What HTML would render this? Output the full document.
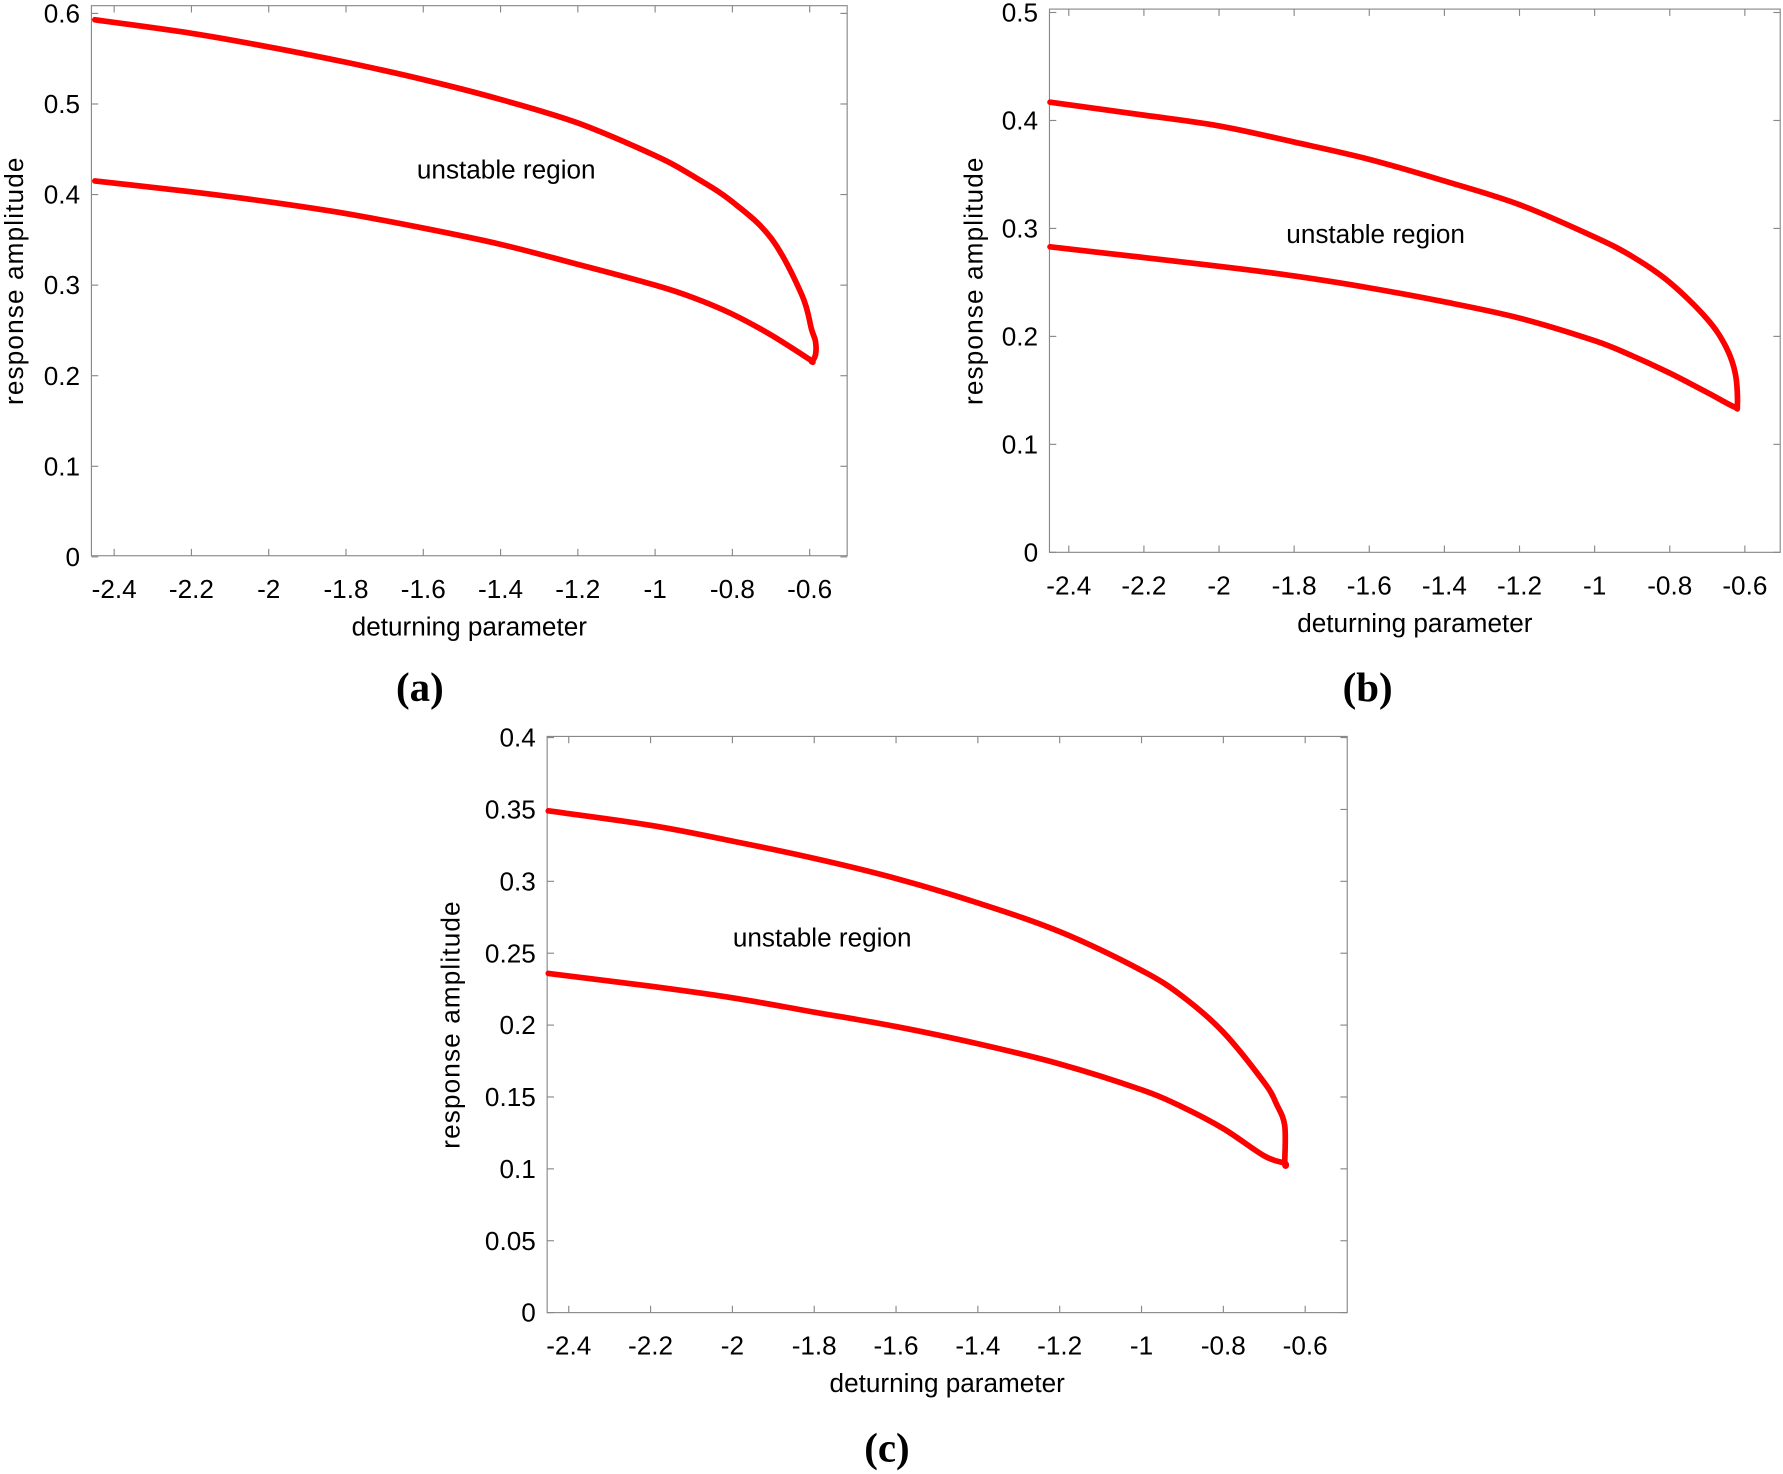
<!DOCTYPE html>
<html><head><meta charset="utf-8"><style>
html,body{margin:0;padding:0;background:#fff;}
svg{display:block;}
text{font-family:"Liberation Sans",sans-serif;fill:#000;}
</style></head><body>
<svg id="fig" width="1783" height="1474" viewBox="0 0 1568 1297" xmlns="http://www.w3.org/2000/svg"></svg>
<script>
// Panel (a) data
const aUpperX=[-2.45,-2.2,-2.0,-1.8,-1.6,-1.4,-1.2,-1.0,-0.9,-0.8,-0.7,-0.62,-0.595,-0.585,-0.585,-0.595];
const aUpperY=[0.593,0.578,0.563,0.546,0.527,0.505,0.479,0.443,0.420,0.392,0.352,0.289,0.251,0.238,0.223,0.216];
const aLowerX=[-2.45,-2.2,-2.0,-1.8,-1.6,-1.4,-1.2,-1.0,-0.9,-0.8,-0.7,-0.6];
const aLowerY=[0.415,0.403,0.392,0.379,0.363,0.345,0.323,0.300,0.286,0.268,0.245,0.218];
// Panel (b) data
const bUpperX=[-2.45,-2.2,-2.0,-1.8,-1.6,-1.4,-1.2,-1.0,-0.9,-0.8,-0.7,-0.65,-0.625,-0.62];
const bUpperY=[0.417,0.405,0.395,0.380,0.364,0.344,0.322,0.292,0.274,0.250,0.216,0.190,0.165,0.136];
const bLowerX=[-2.45,-2.2,-2.0,-1.8,-1.6,-1.4,-1.2,-1.0,-0.9,-0.8,-0.7,-0.63];
const bLowerY=[0.283,0.273,0.265,0.256,0.245,0.232,0.217,0.196,0.182,0.166,0.148,0.135];
// Panel (c) data
const cUpperX=[-2.45,-2.2,-2.0,-1.8,-1.6,-1.4,-1.2,-1.0,-0.9,-0.8,-0.7,-0.67,-0.65,-0.65];
const cUpperY=[0.349,0.339,0.328,0.316,0.302,0.285,0.265,0.238,0.220,0.195,0.160,0.145,0.130,0.104];
const cLowerX=[-2.45,-2.2,-2.0,-1.8,-1.6,-1.4,-1.2,-1.0,-0.9,-0.8,-0.7,-0.65];
const cLowerY=[0.236,0.227,0.219,0.209,0.199,0.187,0.173,0.155,0.143,0.128,0.109,0.104];
// Tick labels
const xTicks=[-2.4,-2.2,-2,-1.8,-1.6,-1.4,-1.2,-1,-0.8,-0.6];
const aYTicks=[0,0.1,0.2,0.3,0.4,0.5,0.6];
const bYTicks=[0,0.1,0.2,0.3,0.4,0.5];
const cYTicks=[0,0.05,0.1,0.15,0.2,0.25,0.3,0.35,0.4];

const NS="http://www.w3.org/2000/svg";
const svg=document.getElementById('fig');
function mk(tag,attrs,parent){const e=document.createElementNS(NS,tag);for(const k in attrs)e.setAttribute(k,attrs[k]);(parent||svg).appendChild(e);return e;}

function smooth(pts){
  let d='M'+pts[0][0].toFixed(1)+','+pts[0][1].toFixed(1);
  for(let i=0;i<pts.length-1;i++){
    const p0=pts[Math.max(0,i-1)],p1=pts[i],p2=pts[i+1],p3=pts[Math.min(pts.length-1,i+2)];
    const c1=[p1[0]+(p2[0]-p0[0])/6,p1[1]+(p2[1]-p0[1])/6];
    const c2=[p2[0]-(p3[0]-p1[0])/6,p2[1]-(p3[1]-p1[1])/6];
    d+=' C'+c1.map(v=>v.toFixed(1)).join(',')+' '+c2.map(v=>v.toFixed(1)).join(',')+' '+p2.map(v=>v.toFixed(1)).join(',');
  }
  return d;
}

function panel(id,p){
  const g=mk('g',{});
  
  
  const X=v=>p.x0+(v-(-2.4))*p.xs;
  const Y=v=>p.yb-v*p.ys;
  const box=mk('rect',{x:p.l,y:p.t,width:p.r-p.l,height:p.b-p.t,fill:'none',stroke:'#888','stroke-width':1},g);
  
  
  xTicks.forEach(v=>{
    const x=X(v);
    mk('line',{x1:x,x2:x,y1:p.b,y2:p.b-6,stroke:'#888'},g);
    mk('line',{x1:x,x2:x,y1:p.t,y2:p.t+6,stroke:'#888'},g);
    const t=mk('text',{x:x,y:p.b+37,'font-size':23,'text-anchor':'middle'},g);
    t.textContent=String(v);
    
    
  });
  p.yt.forEach(v=>{
    const y=Y(v);
    mk('line',{x1:p.l,x2:p.l+6,y1:y,y2:y,stroke:'#888'},g);
    mk('line',{x1:p.r,x2:p.r-6,y1:y,y2:y,stroke:'#888'},g);
    const t=mk('text',{x:p.l-10,y:y+8,'font-size':23,'text-anchor':'end'},g);
    t.textContent=String(v);
    
    
  });
  const xt=mk('text',{x:(p.l+p.r)/2,y:p.b+70,'font-size':23,'text-anchor':'middle'},g);
  xt.textContent='deturning parameter';
  
  
  const yt=mk('text',{x:0,y:0,'font-size':23,'text-anchor':'middle',transform:`translate(${p.l-p.yo},${(p.t+p.b)/2}) rotate(-90)`,'letter-spacing':1},g);
  yt.textContent='response amplitude';
  
  
  const ann=mk('text',{x:p.ax,y:p.ay,'font-size':23,'text-anchor':'middle'},g);
  ann.textContent='unstable region';
  
  
  const pts=p.ux.map((v,i)=>[X(v),Y(p.uy[i])]);
  for(let i=p.lx.length-1;i>=0;i--)pts.push([X(p.lx[i]),Y(p.ly[i])]);
  const path=mk('path',{d:smooth(pts),fill:'none',stroke:'#ff0000','stroke-width':5,'stroke-linejoin':'round','stroke-linecap':'round'},g);
  
  
  const lab=mk('text',{x:p.px,y:p.py,'font-size':36,'font-weight':'bold','text-anchor':'middle',style:'font-family:"Liberation Serif",serif'},g);
  lab.textContent='('+id+')';
  
  
}
panel('a',{l:80,r:745,t:5,b:489,x0:100,xs:340,yb:490,ys:797,yt:aYTicks,ux:aUpperX,uy:aUpperY,lx:aLowerX,ly:aLowerY,ax:445,ay:157,px:369,py:617,yo:60});
panel('b',{l:923,r:1566,t:8,b:486,x0:940,xs:330.5,yb:486,ys:950,yt:bYTicks,ux:bUpperX,uy:bUpperY,lx:bLowerX,ly:bLowerY,ax:1210,ay:214,px:1203,py:617,yo:59});
panel('c',{l:481,r:1185,t:648,b:1155,x0:500,xs:360,yb:1155,ys:1265,yt:cYTicks,ux:cUpperX,uy:cUpperY,lx:cLowerX,ly:cLowerY,ax:723,ay:833,px:780,py:1286,yo:77});
</script>
</body></html>
